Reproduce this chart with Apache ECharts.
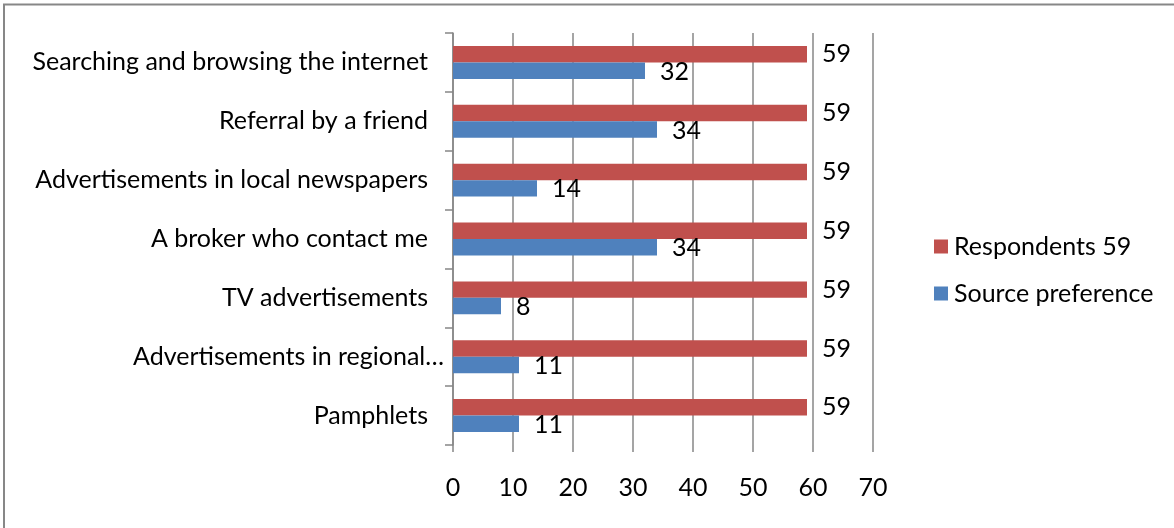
<!DOCTYPE html>
<html>
<head>
<meta charset="utf-8">
<script src="https://cdn.jsdelivr.net/npm/echarts@6/dist/echarts.min.js"></script>
<style>
  html, body { margin: 0; padding: 0; background: #fff; }
  #chart { width: 1174px; height: 528px; }
</style>
</head>
<body>
<div id="chart"></div>
<script>
// Information sources, listed top to bottom
const categories = [
  'Searching and browsing the internet',
  'Referral by a friend',
  'Advertisements in local newspapers',
  'A broker who contact me',
  'TV advertisements',
  'Advertisements in regional…',
  'Pamphlets'
];
const respondents = [59, 59, 59, 59, 59, 59, 59];
const sourcePreference = [32, 34, 14, 34, 8, 11, 11];
const xTicks = { min: 0, max: 70, interval: 10 };

const FONT = 'Lato';
const FONT_SIZE = 25;
const GRID_GRAY = '#878787';

const chart = echarts.init(document.getElementById('chart'), null, { renderer: 'canvas' });

const labelStyle = {
  show: true,
  position: 'right',
  distance: 15,
  color: '#000',
  fontFamily: FONT,
  fontSize: FONT_SIZE
};

const textRich = { fontFamily: FONT, fontSize: FONT_SIZE, color: '#000' };

chart.setOption({
  animation: false,
  backgroundColor: '#fff',
  graphic: [{
    type: 'rect',
    shape: { x: 4, y: 4.5, width: 1300, height: 700 },
    style: { fill: 'none', stroke: GRID_GRAY, lineWidth: 2 },
    silent: true
  }],
  grid: { left: 453, right: 301, top: 33, bottom: 83, containLabel: false },
  legend: {
    orient: 'vertical',
    left: 929,
    top: 229,
    itemWidth: 14,
    itemHeight: 14,
    itemGap: 22,
    icon: 'rect',
    textStyle: { fontFamily: FONT, fontSize: FONT_SIZE, color: '#000', padding: [0, 0, 0, 1] },
    data: ['Respondents 59', 'Source preference']
  },
  xAxis: {
    type: 'value',
    min: xTicks.min,
    max: xTicks.max,
    interval: xTicks.interval,
    axisLine: { show: false },
    axisTick: { show: true, length: 7, lineStyle: { color: GRID_GRAY, width: 1.5 } },
    axisLabel: { fontFamily: FONT, fontSize: FONT_SIZE, color: '#000', margin: 30 },
    splitLine: { show: true, lineStyle: { color: GRID_GRAY, width: 1.5 } }
  },
  yAxis: {
    type: 'category',
    inverse: true,
    data: categories,
    axisLine: { show: true, lineStyle: { color: GRID_GRAY, width: 1.5 } },
    axisTick: { show: true, length: 8, alignWithLabel: false, lineStyle: { color: GRID_GRAY, width: 1.5 } },
    axisLabel: {
      margin: 9,
      // truncated names run closer to the axis than full ones
      formatter: (v) => v.endsWith('…') ? `{t|${v}}` : `{t|${v}}{g|}`,
      rich: { t: textRich, g: { width: 16 } }
    }
  },
  series: [
    {
      name: 'Respondents 59',
      type: 'bar',
      data: respondents,
      barGap: '0%',
      barCategoryGap: '44%',
      itemStyle: { color: '#C0504D' },
      label: labelStyle
    },
    {
      name: 'Source preference',
      type: 'bar',
      data: sourcePreference,
      barGap: '0%',
      barCategoryGap: '44%',
      itemStyle: { color: '#4F81BD' },
      label: Object.assign({}, labelStyle, { offset: [0, 1] })
    }
  ]
});
</script>
</body>
</html>
